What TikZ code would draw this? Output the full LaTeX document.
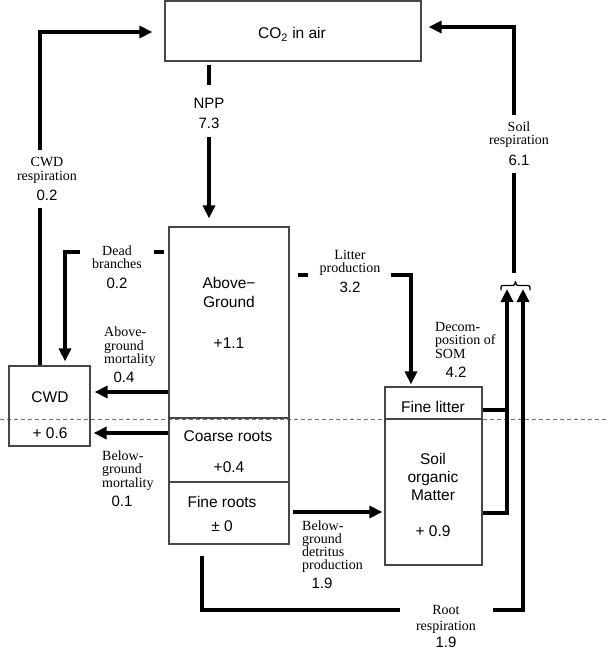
\documentclass[tikz,border=0pt]{standalone}
\usepackage{fontspec}
\setmainfont{Liberation Serif}
\newfontfamily\gothicfam{Liberation Sans}
\usetikzlibrary{arrows.meta}
\newcommand{\myserif}{\rmfamily\fontsize{14}{13.5}\selectfont}
\newcommand{\mynumf}{\gothicfam\fontsize{15}{17}\selectfont}
\newcommand{\myboxf}{\gothicfam\fontsize{15.5}{18}\selectfont}
\tikzset{
  box/.style={draw=black!72, line width=1.2pt, inner sep=0pt, rectangle},
  flow/.style={line width=4pt, line cap=butt, line join=miter},
  arr/.style={flow, -{Triangle[length=13pt,width=12pt]}},
  sl/.style={font=\myserif, anchor=base, inner sep=0pt},
  sw/.style={font=\myserif, anchor=base west, inner sep=0pt},
  nl/.style={font=\mynumf, anchor=base, inner sep=0pt},
  bt/.style={font=\myboxf, anchor=base, inner sep=0pt},
  ground/.style={draw=black!55, line width=0.8pt, dash pattern=on 4pt off 3pt},
  bracepath/.style={line width=1.3pt, line cap=round, line join=round}
}
\begin{document}
\begin{tikzpicture}[x=1pt,y=-1pt]
\useasboundingbox (0,0) rectangle (609,650);
\fill[white] (0,0) rectangle (609,650);

% ground line
\draw[ground] (0,419) -- (609,419);

% boxes
\node[box, minimum width=256pt, minimum height=60pt] (co2) at (293,31) {};
\node[box, minimum width=120pt, minimum height=191pt] (ag) at (229,322.5) {};
\node[box, minimum width=120pt, minimum height=64pt] (cr) at (229,450) {};
\node[box, minimum width=120pt, minimum height=62pt] (fr) at (229,513) {};
\node[box, minimum width=81pt, minimum height=80pt] (cwd) at (49.5,406) {};
\node[box, minimum width=97pt, minimum height=32pt] (fl) at (433.5,403) {};
\node[box, minimum width=97pt, minimum height=146pt] (som) at (433.5,492) {};

% box texts
\node[bt] (tco2) at (292,38.5) {CO\textsubscript{2} in air};
\node[bt] (tag1) at (229,288.5) {Above−};
\node[bt] (tag2) at (229,307.5) {Ground};
\node[bt] (tag3) at (229,348.5) {+1.1};
\node[bt] (tcr1) at (228,441.5) {Coarse roots};
\node[bt] (tcr2) at (229,472.5) {+0.4};
\node[bt] (tfr1) at (222,507.5) {Fine roots};
\node[bt] (tfr2) at (222,531.5) {± 0};
\node[bt] (tcwd1) at (50,402.5) {CWD};
\node[bt] (tcwd2) at (50,438.5) {+ 0.6};
\node[bt] (tfl) at (433,412.5) {Fine litter};
\node[bt] (tsom1) at (433,464.5) {Soil};
\node[bt] (tsom2) at (433,482.5) {organic};
\node[bt] (tsom3) at (433,500.5) {Matter};
\node[bt] (tsom4) at (433,536.5) {+ 0.9};

% flow labels
\node[nl] (lnpp1) at (209,108.5) {NPP};
\node[nl] (lnpp2) at (209,128.5) {7.3};
\node[sl] (lcr1) at (47,166.5) {CWD};
\node[sl] (lcr2) at (47,180.5) {respiration};
\node[nl] (lcr3) at (47,200.4) {0.2};
\node[sl] (lsr1) at (519,131.5) {Soil};
\node[sl] (lsr2) at (519,144.5) {respiration};
\node[nl] (lsr3) at (519,165.4) {6.1};
\node[sl] (ldb1) at (117,255.5) {Dead};
\node[sl] (ldb2) at (117,268.5) {branches};
\node[nl] (ldb3) at (117,288.4) {0.2};
\node[sl] (llp1) at (350,259.5) {Litter};
\node[sl] (llp2) at (350,272.5) {production};
\node[nl] (llp3) at (350,292.4) {3.2};
\node[sw] (lam1) at (104,336.5) {Above-};
\node[sw] (lam2) at (104,350.5) {ground};
\node[sw] (lam3) at (104,363.5) {mortality};
\node[nl] (lam4) at (124,382.4) {0.4};
\node[sw] (lds1) at (435,331.5) {Decom-};
\node[sw] (lds2) at (435,344.5) {position of};
\node[sw] (lds3) at (435,358.5) {SOM};
\node[nl] (lds4) at (456,377.4) {4.2};
\node[sw] (lbm1) at (102,460.5) {Below-};
\node[sw] (lbm2) at (102,473.5) {ground};
\node[sw] (lbm3) at (102,487.5) {mortality};
\node[nl] (lbm4) at (122,506.4) {0.1};
\node[sw] (ldt1) at (302,530.5) {Below-};
\node[sw] (ldt2) at (302,543.5) {ground};
\node[sw] (ldt3) at (302,556.5) {detritus};
\node[sw] (ldt4) at (302,569.5) {production};
\node[nl] (ldt5) at (322,588.4) {1.9};
\node[sl] (lrr1) at (446,614.5) {Root};
\node[sl] (lrr2) at (446,630) {respiration};
\node[nl] (lrr3) at (446,647.5) {1.9};

% coordinates
\coordinate (cwdrA) at (40,208);
\coordinate (cwdrB) at (40,150);
\coordinate (cwdrT) at (40,32);
\coordinate (nppA) at (209,85);
\coordinate (nppB) at (209,137);
\coordinate (srT) at (514,27);
\coordinate (srA) at (514,115);
\coordinate (srB) at (514,173);
\coordinate (srC) at (514,273);
\coordinate (dA) at (507,289);
\coordinate (dB) at (523,289);
\coordinate (yS) at (0,513);
\coordinate (yF) at (0,410);
\coordinate (rrX) at (202,0);
\coordinate (rrB) at (400,610);
\coordinate (rrC) at (493,610);
\coordinate (dbA) at (164,252);
\coordinate (dbB) at (154,252);
\coordinate (dbC) at (80,252);
\coordinate (dbX) at (65,0);
\coordinate (amY) at (0,392);
\coordinate (bmY) at (0,433);
\coordinate (lpA) at (298,275);
\coordinate (lpB) at (308,275);
\coordinate (lpC) at (391,275);
\coordinate (lpX) at (411,0);
\coordinate (dtY) at (0,512);

% CWD respiration
\draw[flow] (cwd.north -| cwdrA) -- (cwdrA);
\draw[arr, shorten >=12pt] (cwdrB) -- (cwdrT) -- (co2.west |- cwdrT);
% NPP
\draw[flow, shorten <=3pt] (co2.south -| nppA) -- (nppA);
\draw[arr, shorten >=8pt] (nppB) -- (ag.north -| nppB);
% Soil respiration
\draw[flow] (srC) -- (srB);
\draw[arr, shorten >=7pt] (srA) -- (srT) -- (co2.east |- srT);
% brace
\draw[bracepath] (501,290) .. controls (501,285.5) .. (505,285.5) -- (511,285.5)
  .. controls (514.5,285.5) .. (515.5,281.5) .. controls (516.5,285.5) .. (520,285.5)
  -- (526,285.5) .. controls (530,285.5) .. (530,290);
% decomposition of SOM
\draw[arr] (som.east |- yS) -| (dA);
\draw[flow] (fl.east |- yF) -- (dA |- yF);
% root respiration
\draw[flow, shorten <=11pt] (fr.south -| rrX) |- (rrB);
\draw[arr] (rrC) -| (dB);
% dead branches
\draw[flow] (dbA) -- (dbB);
\draw[arr, shorten >=4pt] (dbC) -| (cwd.north -| dbX);
% above-ground mortality
\draw[arr, shorten >=4pt] (ag.west |- amY) -- (cwd.east |- amY);
% below-ground mortality
\draw[arr, shorten >=3pt] (cr.west |- bmY) -- (cwd.east |- bmY);
% litter production
\draw[flow] (lpA) -- (lpB);
\draw[arr, shorten >=2pt] (lpC) -| (fl.north -| lpX);
% below-ground detritus
\draw[arr, shorten <=3pt, shorten >=2pt] (fr.east |- dtY) -- (som.west |- dtY);
\end{tikzpicture}
\end{document}
